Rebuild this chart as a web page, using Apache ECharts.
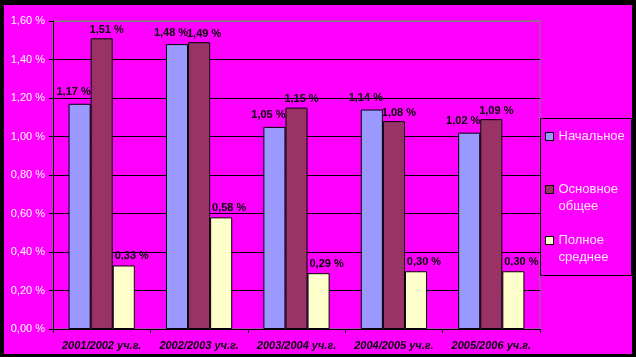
<!DOCTYPE html>
<html><head><meta charset="utf-8">
<script src="https://cdn.jsdelivr.net/npm/echarts@6/dist/echarts.min.js"></script>
<style>
html,body{margin:0;padding:0;background:#000;width:636px;height:357px;overflow:hidden}
#c{position:absolute;left:4px;top:5px;width:628px;height:349px}
</style></head>
<body><div id="c"></div>
<script>
const categories = ['2001/2002 уч.г.', '2002/2003 уч.г.', '2003/2004 уч.г.', '2004/2005 уч.г.', '2005/2006 уч.г.'];
const seriesNames = ['Начальное', 'Основное общее', 'Полное среднее'];
const primary = [1.17, 1.48, 1.05, 1.14, 1.02];
const basic = [1.51, 1.49, 1.15, 1.08, 1.09];
const secondary = [0.33, 0.58, 0.29, 0.30, 0.30];
const yTicks = [0, 0.2, 0.4, 0.6, 0.8, 1.0, 1.2, 1.4, 1.6];

const colors = ['#9999FF', '#993366', '#FFFFCC'];
const fmt = v => v.toFixed(2).replace('.', ',') + ' %';
const font = '"Liberation Sans", Arial, sans-serif';
const chart = echarts.init(document.getElementById('c'));

function mkSeries(name, data, color, offX, dist) {
  return {
    name, type: 'bar', data, barGap: '0%', barCategoryGap: '32%',
    itemStyle: { color, borderColor: '#000', borderWidth: 1 },
    label: { show: true, position: 'top', distance: dist, offset: [offX, 0],
      formatter: p => fmt(p.value), color: '#000', fontWeight: 'bold', fontSize: 11, fontFamily: font }
  };
}
function mkLegend(name, top, multi) {
  return { data: [name], left: 541, top, orient: 'vertical', padding: 0,
    itemWidth: 8, itemHeight: 8, itemGap: 5, icon: 'rect', selectedMode: false,
    itemStyle: { borderColor: '#000', borderWidth: 1 },
    formatter: n => multi ? '\u00a0\n' + n.replace(' ', '\n') : n,
    textStyle: { color: '#FFE8FF', fontSize: 13, fontFamily: font, lineHeight: 17,
      textShadowColor: '#000', textShadowOffsetX: 1, textShadowOffsetY: 1, textShadowBlur: 0 } };
}
chart.setOption({
  backgroundColor: '#FF00FF',
  animation: false,
  grid: { left: 49, right: 92, top: 16, bottom: 25, show: true, borderColor: '#808080', borderWidth: 1, backgroundColor: 'transparent' },
  graphic: [{ type: 'rect', shape: { x: 536.5, y: 113.5, width: 91, height: 157 }, z: 0,
    style: { fill: '#FF00FF', stroke: '#000', lineWidth: 1 } }],
  legend: [mkLegend(seriesNames[0], 123, false), mkLegend(seriesNames[1], 159, true), mkLegend(seriesNames[2], 210, true)],
  xAxis: { type: 'category', data: categories,
    axisLine: { lineStyle: { color: '#000', width: 1 } },
    axisTick: { show: true, length: 4, alignWithLabel: false, lineStyle: { color: '#000' } },
    axisLabel: { color: '#000', fontWeight: 'bold', fontStyle: 'italic', fontSize: 11, fontFamily: font, margin: 11, interval: 0 } },
  yAxis: { type: 'value', min: yTicks[0], max: yTicks[yTicks.length - 1], interval: 0.2,
    axisLine: { show: true, lineStyle: { color: '#000' } },
    axisTick: { show: true, length: 4, lineStyle: { color: '#000' } },
    splitLine: { show: true, lineStyle: { color: ['#000', '#000', '#000', '#000', '#000', '#000', '#000', '#000', '#808080'], width: 1 } },
    axisLabel: { formatter: v => fmt(v), color: '#FFFFFF', fontSize: 11, fontFamily: font, margin: 8,
      textShadowColor: '#000', textShadowOffsetX: 1, textShadowOffsetY: 1, textShadowBlur: 0 } },
  series: [mkSeries(seriesNames[0], primary, colors[0], -6, 6), mkSeries(seriesNames[1], basic, colors[1], 5, 3), mkSeries(seriesNames[2], secondary, colors[2], 8, 4)]
});
</script></body></html>
